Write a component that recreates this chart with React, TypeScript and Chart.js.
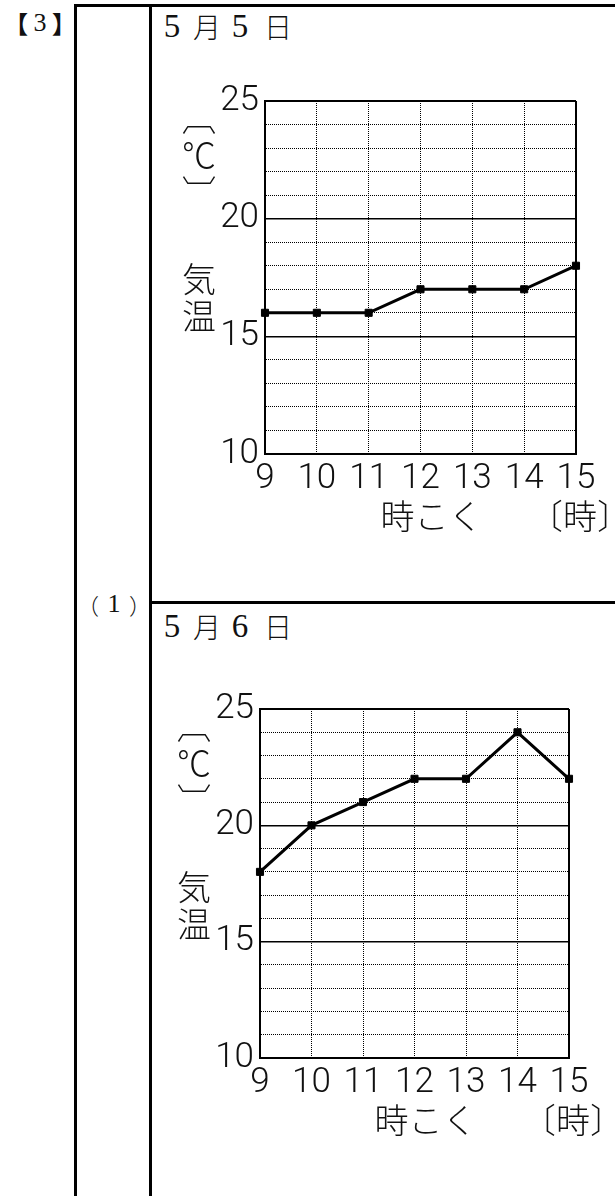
import React, { useEffect, useRef } from 'react';
import { Chart, registerables } from 'chart.js';

Chart.register(...registerables);

// ---- data ----
const hours = ['9', '10', '11', '12', '13', '14', '15'];
const tempsMay5 = [16, 16, 16, 17, 17, 17, 18];
const tempsMay6 = [18, 20, 21, 22, 22, 24, 22];
const yMin = 10;
const yMax = 25;
const yStep = 1;
const yLabelEvery = 5;

const NUM_FONT = "Roboto, 'Noto Sans CJK JP', sans-serif";
const JP_FONT = "'Noto Sans CJK JP', sans-serif";
const SERIF = "'Liberation Serif', 'DejaVu Serif', 'Noto Sans CJK JP', serif";

type Geo = { left: number; top: number; width: number; height: number; yW: number; pt: number; pr: number; xH: number };

function TempChart({ values, geo }: { values: number[]; geo: Geo }) {
  const ref = useRef<HTMLCanvasElement>(null);
  useEffect(() => {
    if (!ref.current) return;
    const titles = {
      id: 'axisTitles',
      afterDraw(chart: any) {
        const { ctx, chartArea, scales } = chart;
        ctx.save();
        ctx.fillStyle = '#111';
        ctx.font = `300 34px ${JP_FONT}`;
        ctx.textAlign = 'center';
        ctx.textBaseline = 'middle';
        const cx = chartArea.left - 66;
        ['︹', '℃', '︺'].forEach((c, i) => ctx.fillText(c, cx, chartArea.top + 17 + i * 37));
        ['気', '温'].forEach((c, i) => ctx.fillText(c, cx, chartArea.top + 178 + i * 37));
        const xs = scales.x;
        const yb = chartArea.bottom + 62;
        ctx.fillText('時こく', xs.getPixelForValue(3) + 11, yb);
        ctx.fillText('〔時〕', xs.getPixelForValue(hours.length - 1) + 4, yb);
        ctx.restore();
      },
    };
    const isEdgeX = (i: number) => i === 0 || i === hours.length - 1;
    const chart = new Chart(ref.current, {
      type: 'line',
      data: {
        labels: hours,
        datasets: [
          {
            data: values,
            borderColor: '#000',
            backgroundColor: '#000',
            borderWidth: 3,
            pointStyle: 'rect',
            pointRadius: 5,
            pointBackgroundColor: '#000',
            pointBorderColor: '#000',
            pointBorderWidth: 1,
            tension: 0,
            clip: false as any,
          },
        ],
      },
      options: {
        animation: false,
        responsive: false,
        events: [],
        layout: { autoPadding: false, padding: { left: 0, top: geo.pt, right: geo.pr, bottom: 0 } } as any,
        plugins: { legend: { display: false }, tooltip: { enabled: false } },
        scales: {
          x: {
            type: 'category',
            offset: false,
            afterFit: (s: any) => { s.height = geo.xH; },
            grid: {
              drawTicks: false,
              color: '#000',
              lineWidth: (c: any) => (isEdgeX(c.index) ? 2 : 1),
            },
            border: {
              display: true,
              color: '#000',
              width: 2,
              dash: (c: any) => (c.type === 'tick' && !isEdgeX(c.index) ? [1, 1] : []),
            } as any,
            ticks: {
              color: '#111',
              padding: 4,
              maxRotation: 0,
              autoSkip: false,
              font: { family: NUM_FONT, size: 35, weight: '300' as any },
            },
          },
          y: {
            type: 'linear',
            min: yMin,
            max: yMax,
            afterFit: (s: any) => { s.width = geo.yW; },
            grid: {
              drawTicks: false,
              color: '#000',
              lineWidth: (c: any) => {
                const v = c.tick ? c.tick.value : 0;
                if (v === yMax || v === yMin) return 2;
                return v % yLabelEvery === 0 ? 1.5 : 1;
              },
            },
            border: {
              display: true,
              color: '#000',
              width: 2,
              dash: (c: any) => (c.type === 'tick' && c.tick && c.tick.value % yLabelEvery !== 0 ? [1, 1] : []),
            } as any,
            ticks: {
              stepSize: yStep,
              autoSkip: false,
              color: '#111',
              padding: 6,
              font: { family: NUM_FONT, size: 35, weight: '300' as any },
              callback: (v: any) => (Number(v) % yLabelEvery === 0 ? String(v) : ''),
            },
          },
        },
      },
      plugins: [titles],
    });
    return () => chart.destroy();
  }, [values, geo]);
  return (
    <canvas
      ref={ref}
      width={geo.width}
      height={geo.height}
      style={{ position: 'absolute', left: geo.left, top: geo.top, width: geo.width, height: geo.height }}
    />
  );
}

const geo1: Geo = { left: 152, top: 60, width: 463, height: 500, yW: 113, pt: 41, pr: 39, xH: 106 };
const geo2: Geo = { left: 152, top: 660, width: 463, height: 500, yW: 108, pt: 49, pr: 46, xH: 102 };

function Line({ x, y, w, h }: { x: number; y: number; w: number; h: number }) {
  return <div style={{ position: 'absolute', left: x, top: y, width: w, height: h, background: '#000' }} />;
}

type CharSpec = { c: string; x: number; size: number; family: string; weight?: number };

function Chars({ items, top, lh }: { items: CharSpec[]; top: number; lh: number }) {
  return (
    <>
      {items.map((it, i) => (
        <span
          key={i}
          style={{
            position: 'absolute',
            left: it.x - 40,
            width: 80,
            top,
            textAlign: 'center',
            fontSize: `${it.size}px`,
            fontWeight: it.weight ?? 400,
            lineHeight: `${lh}px`,
            fontFamily: it.family,
            color: '#111',
            whiteSpace: 'pre',
          }}
        >
          {it.c}
        </span>
      ))}
    </>
  );
}

const dateHead = (d: string): CharSpec[] => [
  { c: '5', x: 172, size: 33, family: SERIF },
  { c: '月', x: 207, size: 28, family: JP_FONT, weight: 300 },
  { c: d, x: 240, size: 33, family: SERIF },
  { c: '日', x: 278, size: 28, family: JP_FONT, weight: 300 },
];

export default function App() {
  return (
    <div style={{ position: 'absolute', left: 0, top: 0, width: 615, height: 1196, background: '#fff', overflow: 'hidden' }}>
      <Chars
        top={7}
        lh={32}
        items={[
          { c: '【', x: 16, size: 24, family: JP_FONT, weight: 700 },
          { c: '3', x: 40, size: 26, family: SERIF },
          { c: '】', x: 64, size: 24, family: JP_FONT, weight: 700 },
        ]}
      />
      <Line x={74} y={4} w={541} h={3} />
      <Line x={74} y={4} w={3} h={1192} />
      <Line x={149} y={4} w={3} h={1192} />
      <Line x={149} y={601} w={466} h={3} />
      <Chars top={8} lh={36} items={dateHead('5')} />
      <Chars top={608} lh={36} items={dateHead('6')} />
      <Chars
        top={589}
        lh={30}
        items={[
          { c: '（', x: 88, size: 22, family: JP_FONT, weight: 300 },
          { c: '1', x: 114, size: 26, family: SERIF },
          { c: '）', x: 140, size: 22, family: JP_FONT, weight: 300 },
        ]}
      />
      <TempChart values={tempsMay5} geo={geo1} />
      <TempChart values={tempsMay6} geo={geo2} />
    </div>
  );
}
